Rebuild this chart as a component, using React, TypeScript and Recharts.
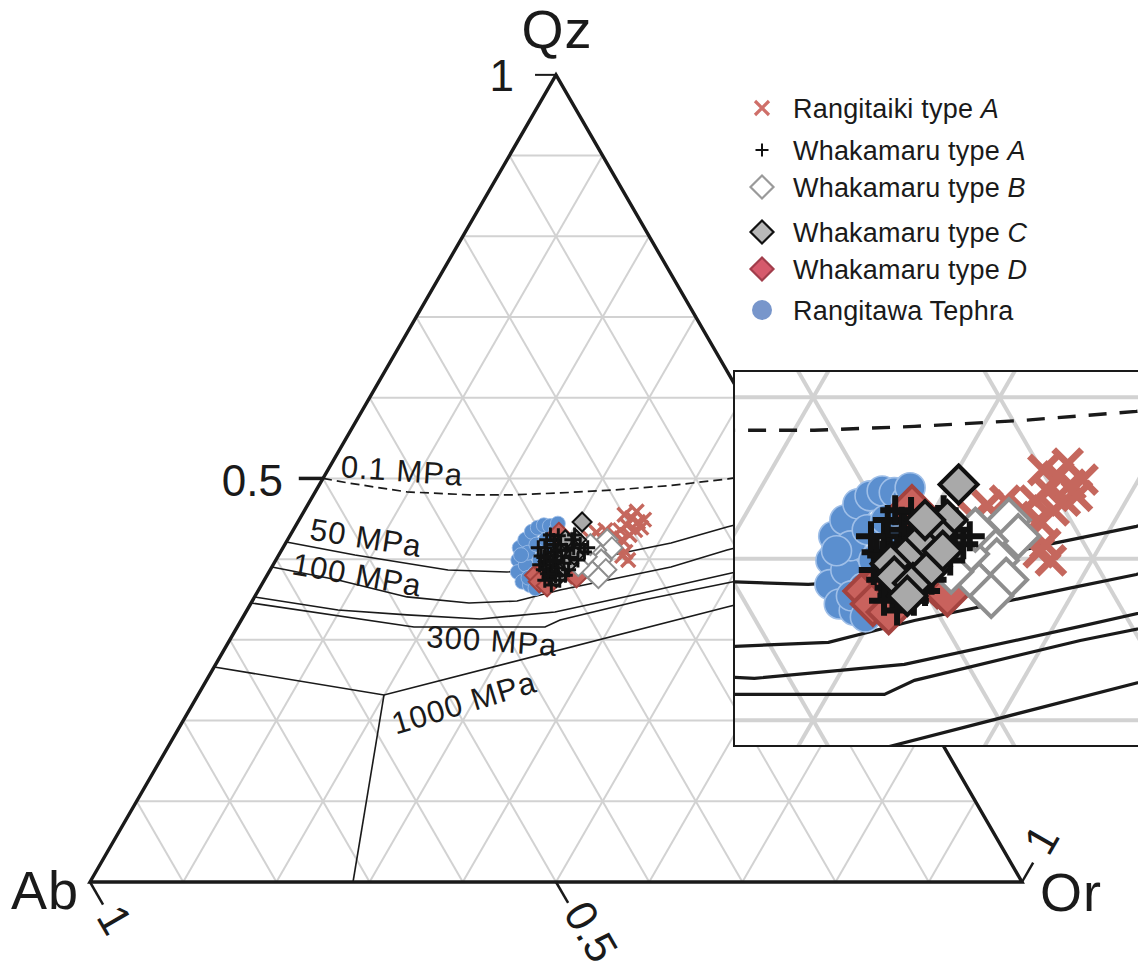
import React from 'react';
import { ScatterChart, Scatter, XAxis, YAxis, ReferenceLine, Legend } from 'recharts';

const FONT = '"Liberation Sans", Arial, Helvetica, sans-serif';
const H = Math.sqrt(3) / 2;

// compositions as [Qz, Or]; Ab = 1 - Qz - Or
type Comp = [number, number];

const rangitawaTephra: Comp[] = [
  [0.399, 0.260], [0.384, 0.267], [0.414, 0.254], [0.372, 0.278], [0.424, 0.255], [0.393, 0.271],
  [0.408, 0.266], [0.368, 0.288], [0.434, 0.257], [0.382, 0.286], [0.418, 0.270], [0.439, 0.261],
  [0.399, 0.283], [0.442, 0.266], [0.424, 0.277], [0.441, 0.273], [0.411, 0.290], [0.436, 0.282],
  [0.444, 0.280], [0.387, 0.298], [0.377, 0.282], [0.405, 0.260], [0.372, 0.299], [0.364, 0.296],
];

const rangitaikiA: Comp[] = [
  [0.451, 0.356], [0.446, 0.365], [0.442, 0.355], [0.436, 0.367], [0.439, 0.372], [0.455, 0.346],
  [0.430, 0.364], [0.436, 0.351], [0.430, 0.348], [0.426, 0.345], [0.424, 0.339], [0.418, 0.336],
  [0.424, 0.359], [0.414, 0.359], [0.409, 0.370], [0.418, 0.351], [0.449, 0.370], [0.459, 0.357],
  [0.399, 0.378], [0.404, 0.369], [0.433, 0.327], [0.436, 0.335], [0.426, 0.323],
];

const whakamaruD: Comp[] = [
  [0.380, 0.288], [0.372, 0.296], [0.367, 0.307], [0.383, 0.325], [0.378, 0.333], [0.432, 0.287],
  [0.389, 0.294],
];

const whakamaruA: Comp[] = [
  [0.414, 0.281], [0.404, 0.289], [0.393, 0.297], [0.384, 0.304], [0.397, 0.291], [0.409, 0.293],
  [0.399, 0.301], [0.389, 0.308], [0.418, 0.296], [0.404, 0.304], [0.387, 0.293], [0.377, 0.304],
  [0.379, 0.310], [0.395, 0.311], [0.411, 0.305], [0.387, 0.320], [0.423, 0.286], [0.424, 0.278],
  [0.402, 0.314], [0.414, 0.312], [0.399, 0.324], [0.409, 0.326], [0.414, 0.327], [0.374, 0.317],
  [0.404, 0.282], [0.429, 0.288], [0.424, 0.305], [0.368, 0.311], [0.414, 0.274], [0.393, 0.286],
  [0.402, 0.286], [0.382, 0.300], [0.397, 0.298], [0.418, 0.290], [0.430, 0.279], [0.380, 0.320],
  [0.418, 0.317], [0.430, 0.305], [0.374, 0.301], [0.411, 0.296],
];

const whakamaruB: Comp[] = [
  [0.424, 0.343], [0.414, 0.353], [0.411, 0.337], [0.399, 0.349], [0.403, 0.331], [0.387, 0.360],
  [0.384, 0.347], [0.392, 0.328], [0.418, 0.328], [0.377, 0.357],
];

const whakamaruC: Comp[] = [
  [0.446, 0.305], [0.424, 0.310], [0.416, 0.308], [0.410, 0.302], [0.401, 0.299], [0.397, 0.293],
  [0.389, 0.299], [0.385, 0.311], [0.395, 0.316], [0.377, 0.312], [0.405, 0.317], [0.424, 0.298],
];

// minimum-melt isobars and the 1000 MPa field boundary
const isobar01: Comp[] = [
  [0.5, 0], [0.4944, 0.0296], [0.4833, 0.0985], [0.4796, 0.1679], [0.4796, 0.2108], [0.482, 0.2633],
  [0.4857, 0.3193], [0.4913, 0.3777], [0.4994, 0.4348], [0.5105, 0.4895],
];
const isobar50: Comp[] = [
  [0.4213, 0], [0.4052, 0.0817], [0.3866, 0.1908], [0.3841, 0.2553], [0.3866, 0.2895], [0.3965, 0.3275],
  [0.4089, 0.3717], [0.4201, 0.4134], [0.4399, 0.4635], [0.4647, 0.5353],
];
const isobar100: Comp[] = [
  [0.3903, 0], [0.3742, 0.079], [0.3532, 0.1635], [0.3457, 0.2338], [0.3482, 0.2841], [0.3618, 0.3234],
  [0.3817, 0.3961], [0.3903, 0.4282], [0.4114, 0.4778], [0.4387, 0.5613],
];
const isobar200: Comp[] = [
  [0.3532, 0], [0.337, 0.0976], [0.3309, 0.1747], [0.3259, 0.2555], [0.3346, 0.3316], [0.3581, 0.4142],
  [0.3817, 0.4927], [0.4102, 0.5898],
];
const isobar300: Comp[] = [
  [0.3457, 0], [0.316, 0.1896], [0.316, 0.3302], [0.3247, 0.342], [0.3494, 0.4186], [0.3705, 0.4982],
  [0.3978, 0.6022],
];
const isobar1000: Comp[] = [[0.2664, 0], [0.2317, 0.1996], [0.3408, 0.5131], [0.3779, 0.6221]];
const fieldBoundary: Comp[] = [[0.2317, 0.1996], [0, 0.2822]];

const gridLevels = [0.1, 0.2, 0.3, 0.4, 0.5, 0.6, 0.7, 0.8, 0.9];

const pressureLabels = [
  { text: '0.1 MPa', at: [0.5093, 0.0802] as Comp, angle: 4 },
  { text: '50 MPa', at: [0.4263, 0.083] as Comp, angle: 9 },
  { text: '100 MPa', at: [0.3804, 0.0963] as Comp, angle: 10 },
  { text: '300 MPa', at: [0.2986, 0.282] as Comp, angle: 4 },
  { text: '1000 MPa', at: [0.2218, 0.2904] as Comp, angle: -17 },
];

const legendItems = [
  { label: 'Rangitaiki type ', tag: 'A', mark: 'cross' },
  { label: 'Whakamaru type ', tag: 'A', mark: 'plus' },
  { label: 'Whakamaru type ', tag: 'B', mark: 'diamondB' },
  { label: 'Whakamaru type ', tag: 'C', mark: 'diamondC' },
  { label: 'Whakamaru type ', tag: 'D', mark: 'diamondD' },
  { label: 'Rangitawa Tephra', tag: '', mark: 'circle' },
];
const legendRowY = [28, 70, 107, 152, 189, 230];

const toXY = ([qz, or]: Comp) => ({ x: or + qz / 2, y: qz * H });
const pts = (rows: Comp[]) => rows.map(toXY);

// grid segments for Qz, Or and Ab at every tenth
const gridSegments = gridLevels.flatMap((c) => [
  [toXY([c, 0]), toXY([c, 1 - c])],
  [toXY([0, c]), toXY([1 - c, c])],
  [toXY([0, 1 - c]), toXY([1 - c, 0])],
]);

const frame = pts([[0, 1], [1, 0], [0, 0], [0, 1], [1, 0]]);

const noDot = () => <g />;

function markers(k: number) {
  return {
    circle: (p: any) => (
      <circle cx={p.cx} cy={p.cy} r={7.5 * k} fill="#5b8fcf" stroke="#9fbfe8" strokeWidth={0.8 * k} />
    ),
    cross: (p: any) => {
      const s = 7 * k;
      return (
        <path
          d={`M${p.cx - s},${p.cy - s}L${p.cx + s},${p.cy + s}M${p.cx - s},${p.cy + s}L${p.cx + s},${p.cy - s}`}
          stroke="#c5675d"
          strokeWidth={3.4 * k}
          fill="none"
        />
      );
    },
    plus: (p: any) => {
      const s = 7.5 * k;
      return (
        <path
          d={`M${p.cx - s},${p.cy}L${p.cx + s},${p.cy}M${p.cx},${p.cy - s}L${p.cx},${p.cy + s}`}
          stroke="#111"
          strokeWidth={3 * k}
          fill="none"
        />
      );
    },
    diamond: (fill: string, stroke: string, half: number) => (p: any) => {
      const s = half * k;
      return (
        <path
          d={`M${p.cx},${p.cy - s}L${p.cx + s},${p.cy}L${p.cx},${p.cy + s}L${p.cx - s},${p.cy}Z`}
          fill={fill}
          stroke={stroke}
          strokeWidth={2 * k}
        />
      );
    },
  };
}

function legendMarker(mark: string, cx: number, cy: number) {
  switch (mark) {
    case 'cross':
      return (
        <path d={`M${cx - 7},${cy - 7}L${cx + 7},${cy + 7}M${cx - 7},${cy + 7}L${cx + 7},${cy - 7}`} stroke="#cf6f69" strokeWidth={3.2} />
      );
    case 'plus':
      return <path d={`M${cx - 6.5},${cy}L${cx + 6.5},${cy}M${cx},${cy - 6.5}L${cx},${cy + 6.5}`} stroke="#111" strokeWidth={2} />;
    case 'circle':
      return <circle cx={cx} cy={cy} r={10} fill="#7896cb" />;
    default: {
      const style: Record<string, [string, string]> = {
        diamondB: ['#ffffff', '#9a9a9a'],
        diamondC: ['#b8b8b8', '#111111'],
        diamondD: ['#d65a6c', '#a13d4b'],
      };
      const [fill, stroke] = style[mark];
      return (
        <path d={`M${cx},${cy - 11.5}L${cx + 11.5},${cy}L${cx},${cy + 11.5}L${cx - 11.5},${cy}Z`} fill={fill} stroke={stroke} strokeWidth={2.2} />
      );
    }
  }
}

function LegendBox() {
  return (
    <svg width={380} height={250} style={{ display: 'block', overflow: 'visible' }}>
      {legendItems.map((it, i) => (
        <g key={it.mark}>
          {legendMarker(it.mark, 22, legendRowY[i])}
          <text x={53} y={legendRowY[i] + 9.5} fontSize={27} letterSpacing={0.2} fontFamily={FONT} fill="#1a1a1a">
            {it.label}
            {it.tag && <tspan fontStyle="italic">{it.tag}</tspan>}
          </text>
        </g>
      ))}
    </svg>
  );
}

const textShape = (p: any) => {
  const d = p.payload;
  const x = p.cx + (d.dx || 0);
  const y = p.cy + (d.dy || 0);
  return (
    <text
      x={x}
      y={y}
      fontSize={d.size}
      letterSpacing={d.spacing || 0}
      fontFamily={FONT}
      fill="#1a1a1a"
      textAnchor={d.anchor}
      dominantBaseline={d.baseline || 'alphabetic'}
      transform={d.angle ? `rotate(${d.angle} ${x} ${y})` : undefined}
    >
      {d.text}
    </text>
  );
};

// vertex names and axis tick labels, pinned to ternary points
const axisText = [
  { ...toXY([1, 0]), text: 'Qz', dx: 1, dy: -27, size: 54, spacing: 1, anchor: 'middle' },
  { ...toXY([0, 0]), text: 'Ab', dx: -11, dy: 27, size: 54, spacing: 1, anchor: 'end' },
  { ...toXY([0, 1]), text: 'Or', dx: 18, dy: 29, size: 54, spacing: 1, anchor: 'start' },
  { ...toXY([1, 0]), text: '1', dx: -42, dy: 16, size: 44, anchor: 'end' },
  { ...toXY([0.5, 0]), text: '0.5', dx: -40, dy: 18, size: 44, anchor: 'end' },
  { ...toXY([0, 0]), text: '1', dx: 19, dy: 27, size: 44, anchor: 'start', baseline: 'central', angle: 60 },
  { ...toXY([0, 0.5]), text: '0.5', dx: 20, dy: 23, size: 44, anchor: 'start', baseline: 'central', angle: 60 },
  { ...toXY([0, 1]), text: '1', dx: 13, dy: -32, size: 44, anchor: 'start', baseline: 'central', angle: -60 },
];

const pressureText = pressureLabels.map((l) => ({
  ...toXY(l.at),
  text: l.text,
  size: 31,
  spacing: 1,
  anchor: 'middle',
  baseline: 'central',
  angle: l.angle,
}));

// axis ticks: start point and direction in plot units
const tickMarks = [
  { from: toXY([1, 0]), dx: -0.0225, dy: 0, w: 2 },
  { from: toXY([0.5, 0]), dx: -0.026, dy: 0, w: 3.5 },
  { from: toXY([0, 0]), dx: 0.014, dy: -0.0242, w: 2.5 },
  { from: toXY([0, 0.5]), dx: 0.013, dy: -0.0225, w: 2.5 },
  { from: toXY([0, 1]), dx: 0.012, dy: 0.0208, w: 2.5 },
];

type PlotProps = {
  width: number;
  height: number;
  xDomain: [number, number];
  yDomain: [number, number];
  k: number;
  main?: boolean;
};

function TernaryPlot({ width, height, xDomain, yDomain, k, main }: PlotProps) {
  const m = markers(k);
  const overflow = main ? 'visible' : 'hidden';
  const curve = (stroke: number, dash?: string) => ({
    stroke: '#1a1a1a',
    strokeWidth: stroke * k,
    strokeDasharray: dash,
    fill: 'none',
  });

  const plusSeries = (
    <Scatter key="wA" name="Whakamaru type A" data={pts(whakamaruA)} shape={m.plus} isAnimationActive={false} />
  );
  const typeCSeries = (
    <Scatter
      key="wC"
      name="Whakamaru type C"
      data={pts(whakamaruC)}
      shape={m.diamond('#a9a9a9', '#111111', 9.5)}
      isAnimationActive={false}
    />
  );

  return (
    <ScatterChart width={width} height={height} margin={{ top: 0, right: 0, bottom: 0, left: 0 }}>
      <XAxis type="number" dataKey="x" domain={xDomain} allowDataOverflow hide />
      <YAxis type="number" dataKey="y" domain={yDomain} allowDataOverflow hide />

      {gridSegments.map((seg, i) => (
        <ReferenceLine key={`grid-${i}`} segment={seg} stroke="#d2d2d2" strokeWidth={2 * k} ifOverflow={overflow} />
      ))}

      <Scatter data={pts(isobar01)} line={curve(1.7, k > 1 ? '18 13' : '9 5')} shape={noDot} isAnimationActive={false} />
      <Scatter data={pts(isobar50)} line={curve(1.6)} shape={noDot} isAnimationActive={false} />
      <Scatter data={pts(isobar100)} line={curve(1.6)} shape={noDot} isAnimationActive={false} />
      <Scatter data={pts(isobar200)} line={curve(1.6)} shape={noDot} isAnimationActive={false} />
      <Scatter data={pts(isobar300)} line={curve(1.6)} shape={noDot} isAnimationActive={false} />
      <Scatter data={pts(isobar1000)} line={curve(1.6)} shape={noDot} isAnimationActive={false} />
      <Scatter data={pts(fieldBoundary)} line={curve(1.6)} shape={noDot} isAnimationActive={false} />

      {main && (
        <Scatter
          data={frame}
          line={{ stroke: '#1a1a1a', strokeWidth: 3.4, fill: 'none', strokeLinejoin: 'miter' }}
          shape={noDot}
          isAnimationActive={false}
        />
      )}
      {main &&
        tickMarks.map((t, i) => (
          <ReferenceLine
            key={`tick-${i}`}
            segment={[t.from, { x: t.from.x + t.dx, y: t.from.y + t.dy }]}
            stroke="#1a1a1a"
            strokeWidth={t.w}
            ifOverflow="visible"
          />
        ))}

      <Scatter name="Rangitawa Tephra" data={pts(rangitawaTephra)} shape={m.circle} isAnimationActive={false} />
      <Scatter name="Rangitaiki type A" data={pts(rangitaikiA)} shape={m.cross} isAnimationActive={false} />
      <Scatter name="Whakamaru type D" data={pts(whakamaruD)} shape={m.diamond('#c9625d', '#a4433f', 10.5)} isAnimationActive={false} />
      <Scatter name="Whakamaru type B" data={pts(whakamaruB)} shape={m.diamond('#ffffff', '#8e8e8e', 10.5)} isAnimationActive={false} />
      {/* at full scale the crosses bury the type C diamonds; the enlargement shows them on top */}
      {main ? [typeCSeries, plusSeries] : [plusSeries, typeCSeries]}

      {main && <Scatter data={pressureText} shape={textShape} isAnimationActive={false} />}
      {main && <Scatter data={axisText} shape={textShape} isAnimationActive={false} />}

      {main && (
        <Legend
          layout="vertical"
          align="center"
          verticalAlign="middle"
          content={() => <LegendBox />}
          wrapperStyle={{ left: 740, top: 80, width: 380 }}
        />
      )}
    </ScatterChart>
  );
}

export default function App() {
  return (
    <div
      style={{
        position: 'absolute',
        left: 0,
        top: 0,
        width: 1138,
        height: 962,
        overflow: 'hidden',
        background: '#ffffff',
        fontFamily: FONT,
      }}
    >
      <TernaryPlot width={1138} height={962} xDomain={[-0.096567, 1.124464]} yDomain={[-0.085837, 0.946352]} k={1} main />
      <div
        style={{
          position: 'absolute',
          left: 733,
          top: 370,
          width: 420,
          height: 377,
          border: '2px solid #1a1a1a',
          boxSizing: 'border-box',
          background: '#ffffff',
          overflow: 'hidden',
        }}
      >
        <TernaryPlot width={416} height={373} xDomain={[0.40805, 0.63122]} yDomain={[0.24651, 0.44662]} k={2} />
      </div>
    </div>
  );
}
